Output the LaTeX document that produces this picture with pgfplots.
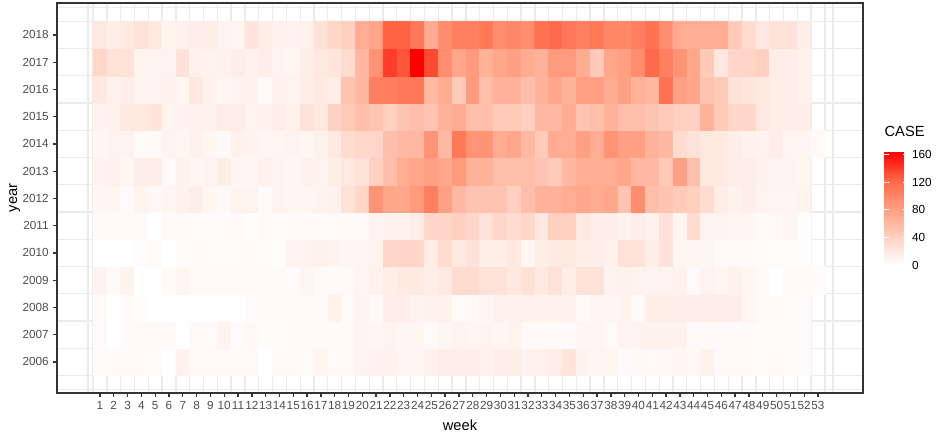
\documentclass[border=0pt]{standalone}
\usepackage{fontspec}
\setmainfont{Liberation Sans}
\usepackage{pgfplots}
\pgfplotsset{compat=1.18}
\usepgfplotslibrary{patchplots}
\usetikzlibrary{calc}
\definecolor{gridc}{RGB}{235,235,235}
\definecolor{framec}{RGB}{51,51,51}
\definecolor{tickc}{RGB}{77,77,77}
\begin{document}
\begin{tikzpicture}
\path[use as bounding box] (-42.75pt,-30pt) rectangle (668.25pt,294.75pt);
\begin{axis}[
  at={(0,0)}, anchor=south west,
  scale only axis, width=604.5pt, height=292.5pt,
  xmin=-2.11, xmax=56.26, ymin=2004.86, ymax=2019.17,
  xtick={1,...,53}, ytick={2006,...,2018},
  minor xtick={0.13,0.5,1.5,...,53.5,54.08},
  minor ytick={2005,2005.5,2006.5,...,2018.5,2019},
  xminorgrids=true, yminorgrids=true,
  minor grid style={gridc, line width=1pt},
  minor tick length=0pt,
  axis line style={framec, line width=1pt},
  tick style={framec, line width=1pt},
  major tick length=2.75pt, tick align=outside, tick pos=left,
  ticklabel style={font=\fontsize{8.8}{10}\selectfont, text=tickc},
  /pgf/number format/assume math mode=true,
  /pgf/number format/1000 sep={},
  xlabel={week}, ylabel={year},
  label style={font=\fontsize{11}{13}\selectfont},
  xlabel style={at={(axis description cs:0.5,-0.0949)}, anchor=base},
  ylabel style={at={(axis description cs:-0.0496,0.5)}, anchor=base},
  colormap={ggred}{rgb255=(255,255,255) rgb255=(255,207,190) rgb255=(255,158,129) rgb255=(255,103,70) rgb255=(255,0,0)},
  point meta min=0, point meta max=164,
  colorbar,
  colorbar style={
    at={($(parent axis.south east)+(7.5pt,96pt)$)}, anchor=south west,
    width=17.25pt, height=85pt,
    ytick={0,40,80,120,160}, xtick=\empty,
    minor ytick={}, yminorgrids=false, xminorgrids=false,
    ytick pos=both, yticklabel pos=right,
    tick align=inside, major tick length=3.3pt,
    ytick style={white, line width=0.8pt},
    axis line style={draw=none},
    yticklabel style={font=\fontsize{8.8}{10}\selectfont, text=black},
    /pgf/number format/assume math mode=true,
    title={CASE},
    title style={at={(0,1)}, anchor=south west, inner sep=0pt, yshift=5pt, font=\fontsize{11}{13}\selectfont},
  },
]
\addplot[matrix plot*, mesh/cols=52, mesh/rows=13, point meta=explicit]
 table[row sep=\\, x=x, y=y, meta=c] {x y c\\
1 2006 3\\ 2 2006 4\\ 3 2006 4\\ 4 2006 5\\ 5 2006 3\\ 6 2006 0\\ 7 2006 12\\ 8 2006 4\\ 9 2006 5\\ 10 2006 5\\ 11 2006 5\\ 12 2006 4\\ 13 2006 0\\
14 2006 5\\ 15 2006 5\\ 16 2006 3\\ 17 2006 8\\ 18 2006 5\\ 19 2006 5\\ 20 2006 10\\ 21 2006 10\\ 22 2006 12\\ 23 2006 8\\ 24 2006 8\\ 25 2006 12\\ 26 2006 15\\
27 2006 15\\ 28 2006 15\\ 29 2006 12\\ 30 2006 15\\ 31 2006 15\\ 32 2006 10\\ 33 2006 12\\ 34 2006 15\\ 35 2006 22\\ 36 2006 10\\ 37 2006 8\\ 38 2006 8\\ 39 2006 4\\
40 2006 6\\ 41 2006 5\\ 42 2006 6\\ 43 2006 8\\ 44 2006 6\\ 45 2006 12\\ 46 2006 4\\ 47 2006 4\\ 48 2006 4\\ 49 2006 3\\ 50 2006 4\\ 51 2006 3\\ 52 2006 3\\
1 2007 4\\ 2 2007 0\\ 3 2007 4\\ 4 2007 4\\ 5 2007 5\\ 6 2007 4\\ 7 2007 0\\ 8 2007 4\\ 9 2007 4\\ 10 2007 10\\ 11 2007 3\\ 12 2007 6\\ 13 2007 3\\
14 2007 3\\ 15 2007 5\\ 16 2007 4\\ 17 2007 4\\ 18 2007 4\\ 19 2007 5\\ 20 2007 10\\ 21 2007 8\\ 22 2007 10\\ 23 2007 8\\ 24 2007 8\\ 25 2007 5\\ 26 2007 8\\
27 2007 10\\ 28 2007 8\\ 29 2007 10\\ 30 2007 8\\ 31 2007 10\\ 32 2007 5\\ 33 2007 5\\ 34 2007 5\\ 35 2007 4\\ 36 2007 8\\ 37 2007 8\\ 38 2007 5\\ 39 2007 10\\
40 2007 10\\ 41 2007 12\\ 42 2007 12\\ 43 2007 12\\ 44 2007 4\\ 45 2007 5\\ 46 2007 4\\ 47 2007 4\\ 48 2007 4\\ 49 2007 3\\ 50 2007 3\\ 51 2007 3\\ 52 2007 3\\
1 2008 5\\ 2 2008 0\\ 3 2008 4\\ 4 2008 2\\ 5 2008 0\\ 6 2008 0\\ 7 2008 0\\ 8 2008 0\\ 9 2008 0\\ 10 2008 0\\ 11 2008 0\\ 12 2008 3\\ 13 2008 4\\
14 2008 4\\ 15 2008 4\\ 16 2008 4\\ 17 2008 5\\ 18 2008 12\\ 19 2008 5\\ 20 2008 10\\ 21 2008 5\\ 22 2008 15\\ 23 2008 15\\ 24 2008 10\\ 25 2008 12\\ 26 2008 12\\
27 2008 5\\ 28 2008 5\\ 29 2008 8\\ 30 2008 12\\ 31 2008 12\\ 32 2008 12\\ 33 2008 12\\ 34 2008 12\\ 35 2008 12\\ 36 2008 5\\ 37 2008 8\\ 38 2008 8\\ 39 2008 10\\
40 2008 5\\ 41 2008 15\\ 42 2008 15\\ 43 2008 15\\ 44 2008 15\\ 45 2008 15\\ 46 2008 15\\ 47 2008 15\\ 48 2008 8\\ 49 2008 5\\ 50 2008 4\\ 51 2008 3\\ 52 2008 3\\
1 2009 10\\ 2 2009 5\\ 3 2009 10\\ 4 2009 0\\ 5 2009 0\\ 6 2009 5\\ 7 2009 8\\ 8 2009 5\\ 9 2009 4\\ 10 2009 4\\ 11 2009 4\\ 12 2009 4\\ 13 2009 4\\
14 2009 5\\ 15 2009 3\\ 16 2009 8\\ 17 2009 5\\ 18 2009 5\\ 19 2009 5\\ 20 2009 8\\ 21 2009 12\\ 22 2009 15\\ 23 2009 18\\ 24 2009 18\\ 25 2009 15\\ 26 2009 18\\
27 2009 30\\ 28 2009 30\\ 29 2009 25\\ 30 2009 25\\ 31 2009 20\\ 32 2009 25\\ 33 2009 18\\ 34 2009 25\\ 35 2009 15\\ 36 2009 25\\ 37 2009 25\\ 38 2009 10\\ 39 2009 12\\
40 2009 10\\ 41 2009 10\\ 42 2009 10\\ 43 2009 12\\ 44 2009 4\\ 45 2009 10\\ 46 2009 8\\ 47 2009 12\\ 48 2009 8\\ 49 2009 5\\ 50 2009 0\\ 51 2009 4\\ 52 2009 4\\
1 2010 0\\ 2 2010 0\\ 3 2010 0\\ 4 2010 2\\ 5 2010 5\\ 6 2010 0\\ 7 2010 3\\ 8 2010 5\\ 9 2010 3\\ 10 2010 3\\ 11 2010 3\\ 12 2010 4\\ 13 2010 3\\
14 2010 2\\ 15 2010 10\\ 16 2010 10\\ 17 2010 12\\ 18 2010 10\\ 19 2010 8\\ 20 2010 8\\ 21 2010 10\\ 22 2010 35\\ 23 2010 35\\ 24 2010 35\\ 25 2010 15\\ 26 2010 30\\
27 2010 18\\ 28 2010 25\\ 29 2010 15\\ 30 2010 15\\ 31 2010 20\\ 32 2010 8\\ 33 2010 15\\ 34 2010 18\\ 35 2010 20\\ 36 2010 15\\ 37 2010 15\\ 38 2010 12\\ 39 2010 25\\
40 2010 25\\ 41 2010 15\\ 42 2010 25\\ 43 2010 8\\ 44 2010 8\\ 45 2010 8\\ 46 2010 5\\ 47 2010 5\\ 48 2010 5\\ 49 2010 3\\ 50 2010 2\\ 51 2010 2\\ 52 2010 2\\
1 2011 5\\ 2 2011 5\\ 3 2011 5\\ 4 2011 4\\ 5 2011 0\\ 6 2011 4\\ 7 2011 4\\ 8 2011 3\\ 9 2011 4\\ 10 2011 3\\ 11 2011 4\\ 12 2011 2\\ 13 2011 4\\
14 2011 3\\ 15 2011 5\\ 16 2011 4\\ 17 2011 3\\ 18 2011 5\\ 19 2011 5\\ 20 2011 4\\ 21 2011 10\\ 22 2011 12\\ 23 2011 12\\ 24 2011 15\\ 25 2011 35\\ 26 2011 35\\
27 2011 40\\ 28 2011 35\\ 29 2011 25\\ 30 2011 35\\ 31 2011 30\\ 32 2011 35\\ 33 2011 20\\ 34 2011 40\\ 35 2011 40\\ 36 2011 20\\ 37 2011 15\\ 38 2011 15\\ 39 2011 12\\
40 2011 15\\ 41 2011 12\\ 42 2011 25\\ 43 2011 8\\ 44 2011 30\\ 45 2011 10\\ 46 2011 10\\ 47 2011 8\\ 48 2011 8\\ 49 2011 5\\ 50 2011 5\\ 51 2011 8\\ 52 2011 2\\
1 2012 8\\ 2 2012 8\\ 3 2012 4\\ 4 2012 10\\ 5 2012 6\\ 6 2012 8\\ 7 2012 12\\ 8 2012 15\\ 9 2012 8\\ 10 2012 5\\ 11 2012 10\\ 12 2012 10\\ 13 2012 4\\
14 2012 10\\ 15 2012 8\\ 16 2012 8\\ 17 2012 10\\ 18 2012 12\\ 19 2012 25\\ 20 2012 35\\ 21 2012 90\\ 22 2012 75\\ 23 2012 75\\ 24 2012 85\\ 25 2012 105\\ 26 2012 80\\
27 2012 60\\ 28 2012 50\\ 29 2012 50\\ 30 2012 50\\ 31 2012 40\\ 32 2012 55\\ 33 2012 65\\ 34 2012 65\\ 35 2012 70\\ 36 2012 75\\ 37 2012 70\\ 38 2012 75\\ 39 2012 50\\
40 2012 95\\ 41 2012 55\\ 42 2012 50\\ 43 2012 45\\ 44 2012 40\\ 45 2012 30\\ 46 2012 15\\ 47 2012 12\\ 48 2012 15\\ 49 2012 10\\ 50 2012 8\\ 51 2012 8\\ 52 2012 10\\
1 2013 10\\ 2 2013 12\\ 3 2013 8\\ 4 2013 15\\ 5 2013 15\\ 6 2013 4\\ 7 2013 12\\ 8 2013 8\\ 9 2013 10\\ 10 2013 15\\ 11 2013 8\\ 12 2013 8\\ 13 2013 12\\
14 2013 10\\ 15 2013 8\\ 16 2013 12\\ 17 2013 10\\ 18 2013 15\\ 19 2013 20\\ 20 2013 25\\ 21 2013 40\\ 22 2013 55\\ 23 2013 70\\ 24 2013 75\\ 25 2013 80\\ 26 2013 75\\
27 2013 85\\ 28 2013 65\\ 29 2013 65\\ 30 2013 55\\ 31 2013 55\\ 32 2013 55\\ 33 2013 50\\ 34 2013 45\\ 35 2013 60\\ 36 2013 70\\ 37 2013 70\\ 38 2013 70\\ 39 2013 75\\
40 2013 60\\ 41 2013 60\\ 42 2013 45\\ 43 2013 80\\ 44 2013 55\\ 45 2013 20\\ 46 2013 20\\ 47 2013 15\\ 48 2013 15\\ 49 2013 12\\ 50 2013 10\\ 51 2013 10\\ 52 2013 8\\
1 2014 8\\ 2 2014 10\\ 3 2014 10\\ 4 2014 5\\ 5 2014 5\\ 6 2014 10\\ 7 2014 8\\ 8 2014 12\\ 9 2014 8\\ 10 2014 5\\ 11 2014 12\\ 12 2014 10\\ 13 2014 8\\
14 2014 8\\ 15 2014 10\\ 16 2014 8\\ 17 2014 12\\ 18 2014 18\\ 19 2014 30\\ 20 2014 35\\ 21 2014 35\\ 22 2014 55\\ 23 2014 60\\ 24 2014 60\\ 25 2014 90\\ 26 2014 60\\
27 2014 110\\ 28 2014 90\\ 29 2014 90\\ 30 2014 70\\ 31 2014 75\\ 32 2014 60\\ 33 2014 45\\ 34 2014 70\\ 35 2014 70\\ 36 2014 80\\ 37 2014 70\\ 38 2014 90\\ 39 2014 80\\
40 2014 80\\ 41 2014 65\\ 42 2014 60\\ 43 2014 30\\ 44 2014 25\\ 45 2014 20\\ 46 2014 20\\ 47 2014 15\\ 48 2014 12\\ 49 2014 10\\ 50 2014 15\\ 51 2014 8\\ 52 2014 8\\
1 2015 10\\ 2 2015 12\\ 3 2015 18\\ 4 2015 18\\ 5 2015 22\\ 6 2015 10\\ 7 2015 10\\ 8 2015 12\\ 9 2015 12\\ 10 2015 15\\ 11 2015 15\\ 12 2015 10\\ 13 2015 12\\
14 2015 15\\ 15 2015 12\\ 16 2015 25\\ 17 2015 20\\ 18 2015 38\\ 19 2015 45\\ 20 2015 55\\ 21 2015 50\\ 22 2015 40\\ 23 2015 50\\ 24 2015 55\\ 25 2015 50\\ 26 2015 65\\
27 2015 70\\ 28 2015 55\\ 29 2015 55\\ 30 2015 45\\ 31 2015 45\\ 32 2015 40\\ 33 2015 60\\ 34 2015 60\\ 35 2015 70\\ 36 2015 50\\ 37 2015 55\\ 38 2015 65\\ 39 2015 55\\
40 2015 55\\ 41 2015 50\\ 42 2015 45\\ 43 2015 40\\ 44 2015 40\\ 45 2015 65\\ 46 2015 45\\ 47 2015 35\\ 48 2015 35\\ 49 2015 20\\ 50 2015 15\\ 51 2015 15\\ 52 2015 15\\
1 2016 20\\ 2 2016 12\\ 3 2016 15\\ 4 2016 10\\ 5 2016 10\\ 6 2016 12\\ 7 2016 8\\ 8 2016 20\\ 9 2016 12\\ 10 2016 8\\ 11 2016 10\\ 12 2016 12\\ 13 2016 5\\
14 2016 12\\ 15 2016 10\\ 16 2016 15\\ 17 2016 18\\ 18 2016 15\\ 19 2016 50\\ 20 2016 60\\ 21 2016 105\\ 22 2016 105\\ 23 2016 110\\ 24 2016 110\\ 25 2016 60\\ 26 2016 70\\
27 2016 45\\ 28 2016 85\\ 29 2016 55\\ 30 2016 65\\ 31 2016 65\\ 32 2016 55\\ 33 2016 65\\ 34 2016 75\\ 35 2016 65\\ 36 2016 80\\ 37 2016 80\\ 38 2016 70\\ 39 2016 80\\
40 2016 65\\ 41 2016 60\\ 42 2016 115\\ 43 2016 80\\ 44 2016 75\\ 45 2016 50\\ 46 2016 45\\ 47 2016 25\\ 48 2016 22\\ 49 2016 20\\ 50 2016 15\\ 51 2016 15\\ 52 2016 12\\
1 2017 35\\ 2 2017 25\\ 3 2017 25\\ 4 2017 10\\ 5 2017 10\\ 6 2017 10\\ 7 2017 25\\ 8 2017 12\\ 9 2017 10\\ 10 2017 12\\ 11 2017 15\\ 12 2017 12\\ 13 2017 15\\
14 2017 10\\ 15 2017 8\\ 16 2017 15\\ 17 2017 20\\ 18 2017 22\\ 19 2017 30\\ 20 2017 60\\ 21 2017 90\\ 22 2017 140\\ 23 2017 130\\ 24 2017 164\\ 25 2017 135\\ 26 2017 95\\
27 2017 75\\ 28 2017 85\\ 29 2017 65\\ 30 2017 75\\ 31 2017 80\\ 32 2017 70\\ 33 2017 65\\ 34 2017 85\\ 35 2017 85\\ 36 2017 70\\ 37 2017 45\\ 38 2017 75\\ 39 2017 80\\
40 2017 95\\ 41 2017 120\\ 42 2017 105\\ 43 2017 90\\ 44 2017 75\\ 45 2017 45\\ 46 2017 20\\ 47 2017 35\\ 48 2017 35\\ 49 2017 40\\ 50 2017 15\\ 51 2017 15\\ 52 2017 12\\
1 2018 20\\ 2 2018 15\\ 3 2018 20\\ 4 2018 25\\ 5 2018 18\\ 6 2018 10\\ 7 2018 12\\ 8 2018 15\\ 9 2018 15\\ 10 2018 10\\ 11 2018 8\\ 12 2018 22\\ 13 2018 15\\
14 2018 12\\ 15 2018 10\\ 16 2018 12\\ 17 2018 25\\ 18 2018 35\\ 19 2018 40\\ 20 2018 70\\ 21 2018 75\\ 22 2018 125\\ 23 2018 125\\ 24 2018 110\\ 25 2018 70\\ 26 2018 95\\
27 2018 105\\ 28 2018 105\\ 29 2018 110\\ 30 2018 95\\ 31 2018 100\\ 32 2018 95\\ 33 2018 115\\ 34 2018 120\\ 35 2018 110\\ 36 2018 105\\ 37 2018 110\\ 38 2018 100\\ 39 2018 100\\
40 2018 105\\ 41 2018 115\\ 42 2018 95\\ 43 2018 70\\ 44 2018 70\\ 45 2018 70\\ 46 2018 70\\ 47 2018 45\\ 48 2018 30\\ 49 2018 20\\ 50 2018 25\\ 51 2018 25\\ 52 2018 15\\
};
\addplot[patch, patch type=rectangle, shader=flat corner, point meta=explicit]
 table[row sep=\\, x=x, y=y, meta=c] {x y c\\
52.5 2008.5 3\\ 53.5 2008.5 3\\ 53.5 2009.5 3\\ 52.5 2009.5 3\\
52.5 2013.5 5\\ 53.5 2013.5 5\\ 53.5 2014.5 5\\ 52.5 2014.5 5\\
};
\end{axis}
\end{tikzpicture}
\end{document}
